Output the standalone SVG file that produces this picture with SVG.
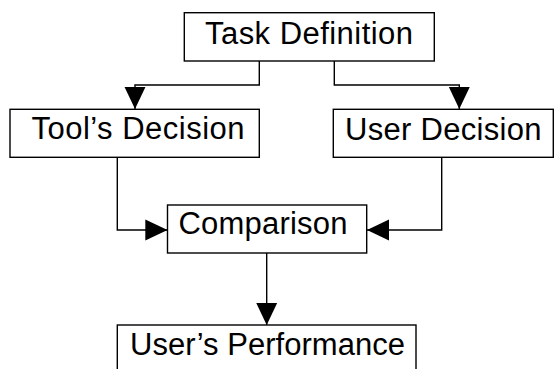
<svg xmlns="http://www.w3.org/2000/svg" width="555" height="369" viewBox="0 0 555 369">
  <style>
    .box { fill: #ffffff; stroke: #000000; stroke-width: 1.4; }
    .lbl { font-family: "Liberation Sans", Arial, sans-serif; font-size: 31px; fill: #000000; }
    .wire { fill: none; stroke: #000000; stroke-width: 1.4; }
  </style>
  <defs>
    <marker id="arrow" markerUnits="userSpaceOnUse" markerWidth="22" markerHeight="22" viewBox="0 0 20 19" refX="20" refY="9.5" orient="auto">
      <path d="M0,0 L20,9.5 L0,19 Z" fill="#000000"/>
    </marker>
  </defs>

  <rect width="555" height="369" fill="#ffffff"/>

  <g id="connectors">
    <path class="wire" d="M259.3,61 V85 H135 V109" marker-end="url(#arrow)"/>
    <path class="wire" d="M334.3,61 V85 H459.3 V109" marker-end="url(#arrow)"/>
    <path class="wire" d="M117.3,157.3 V230 H167.3" marker-end="url(#arrow)"/>
    <path class="wire" d="M441.7,157.3 V230 H367" marker-end="url(#arrow)"/>
    <path class="wire" d="M266.7,253 V325" marker-end="url(#arrow)"/>
  </g>

  <g id="task-definition">
    <rect class="box" x="184.3" y="12.7" width="250" height="48.3"/>
    <text class="lbl" x="205" y="43.5" textLength="208">Task Definition</text>
  </g>

  <g id="tools-decision">
    <rect class="box" x="10" y="109.3" width="249.3" height="48"/>
    <text class="lbl" x="31.5" y="139" textLength="213">Tool’s Decision</text>
  </g>

  <g id="user-decision">
    <rect class="box" x="333.3" y="109.3" width="220" height="48"/>
    <text class="lbl" x="345" y="139.5" textLength="196.5">User Decision</text>
  </g>

  <g id="comparison">
    <rect class="box" x="167.5" y="205" width="199.2" height="48"/>
    <text class="lbl" x="178.5" y="234" textLength="169">Comparison</text>
  </g>

  <g id="users-performance">
    <rect class="box" x="117.3" y="325" width="298.7" height="60"/>
    <text class="lbl" x="130" y="355" textLength="275">User’s Performance</text>
  </g>
</svg>
